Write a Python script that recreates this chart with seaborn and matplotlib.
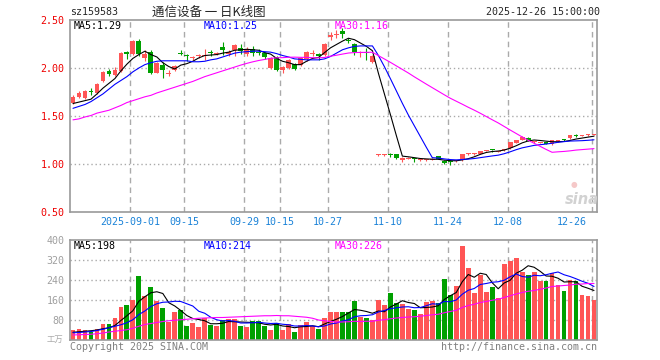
import numpy as np
import pandas as pd
import matplotlib
matplotlib.use("Agg")
import matplotlib.pyplot as plt
import matplotlib.transforms as mtransforms
import seaborn as sns

# ---- daily candles (price), 88 trading days ----
opens = [1.64, 1.70, 1.69, 1.76, 1.74, 1.86, 1.97, 1.93, 1.97, 2.17,
         2.15, 2.28, 2.10, 2.17, 1.95, 2.03, 1.94, 1.98, 2.16, 2.14,
         2.10, 2.12, 2.12, 2.17, 2.15, 2.22, 2.15, 2.19, 2.21, 2.15,
         2.20, 2.17, 2.16, 2.00, 2.11, 1.98, 2.00, 2.04, 2.03, 2.09,
         2.15, 2.15, 2.14, 2.32, 2.34, 2.39, 2.29, 2.25, 2.16, 2.17,
         2.06, 1.09, 1.09, 1.095, 1.10, 1.04, 1.055, 1.055, 1.04, 1.04,
         1.045, 1.08, 1.035, 1.025, 1.03, 1.04, 1.10, 1.10, 1.107, 1.133,
         1.145, 1.127, 1.15, 1.162, 1.222, 1.25, 1.273, 1.228, 1.222, 1.217,
         1.205, 1.236, 1.25, 1.27, 1.30, 1.296, 1.303, 1.305]
highs = [1.72, 1.76, 1.77, 1.79, 1.84, 1.97, 1.99, 2.01, 2.17, 2.18,
         2.29, 2.30, 2.19, 2.19, 2.06, 2.06, 1.98, 2.03, 2.19, 2.15,
         2.13, 2.15, 2.20, 2.19, 2.17, 2.27, 2.19, 2.25, 2.25, 2.22,
         2.23, 2.20, 2.17, 2.11, 2.13, 2.02, 2.09, 2.05, 2.11, 2.18,
         2.19, 2.16, 2.26, 2.38, 2.40, 2.42, 2.31, 2.26, 2.18, 2.21,
         2.14, 1.10, 1.10, 1.11, 1.105, 1.07, 1.07, 1.06, 1.05, 1.05,
         1.06, 1.085, 1.04, 1.04, 1.04, 1.105, 1.11, 1.11, 1.14, 1.14,
         1.15, 1.14, 1.16, 1.23, 1.255, 1.29, 1.28, 1.24, 1.232, 1.225,
         1.25, 1.245, 1.26, 1.30, 1.31, 1.305, 1.31, 1.31]
lows = [1.62, 1.69, 1.68, 1.72, 1.73, 1.85, 1.92, 1.92, 1.96, 2.09,
        2.14, 2.13, 2.07, 1.94, 1.95, 1.90, 1.92, 1.97, 2.14, 2.07,
        2.08, 2.10, 2.08, 2.13, 2.14, 2.14, 2.12, 2.13, 2.15, 2.13,
        2.13, 2.14, 2.09, 1.99, 1.97, 1.95, 1.99, 1.98, 2.02, 2.07,
        2.13, 2.08, 2.13, 2.29, 2.31, 2.31, 2.26, 2.14, 2.11, 2.08,
        2.05, 1.08, 1.08, 1.07, 1.05, 1.02, 1.05, 1.02, 1.03, 1.03,
        1.04, 1.05, 0.995, 0.985, 1.02, 1.035, 1.09, 1.09, 1.10, 1.12,
        1.13, 1.12, 1.14, 1.16, 1.22, 1.25, 1.235, 1.22, 1.215, 1.205,
        1.20, 1.23, 1.24, 1.265, 1.285, 1.29, 1.295, 1.30]
closes = [1.70, 1.74, 1.76, 1.75, 1.83, 1.96, 1.94, 1.98, 2.16, 2.15,
          2.28, 2.15, 2.15, 1.95, 2.05, 1.98, 1.95, 2.02, 2.15, 2.12,
          2.11, 2.13, 2.14, 2.16, 2.16, 2.19, 2.17, 2.24, 2.18, 2.20,
          2.16, 2.16, 2.11, 2.10, 1.98, 2.01, 2.08, 1.99, 2.10, 2.17,
          2.16, 2.12, 2.25, 2.34, 2.35, 2.35, 2.28, 2.17, 2.17, 2.16,
          2.13, 1.095, 1.095, 1.09, 1.065, 1.065, 1.06, 1.05, 1.045, 1.045,
          1.05, 1.055, 1.007, 1.02, 1.035, 1.10, 1.105, 1.107, 1.135, 1.137,
          1.142, 1.13, 1.155, 1.228, 1.255, 1.283, 1.24, 1.233, 1.226, 1.213,
          1.248, 1.24, 1.247, 1.297, 1.296, 1.30, 1.307, 1.308]

# moving averages as drawn on the chart
ma5 = [1.63, 1.645, 1.66, 1.675, 1.73, 1.79, 1.84, 1.89, 1.97, 2.04,
       2.10, 2.14, 2.175, 2.14, 2.115, 2.055, 2.015, 1.99, 2.03, 2.045,
       2.07, 2.105, 2.13, 2.135, 2.14, 2.155, 2.165, 2.185, 2.19, 2.195,
       2.19, 2.185, 2.16, 2.145, 2.10, 2.07, 2.055, 2.035, 2.035, 2.07,
       2.10, 2.11, 2.16, 2.21, 2.245, 2.28, 2.31, 2.295, 2.26, 2.225,
       2.18, 1.945, 1.73, 1.515, 1.295, 1.082, 1.075, 1.066, 1.057, 1.053,
       1.05, 1.049, 1.04, 1.035, 1.033, 1.043, 1.055, 1.075, 1.10, 1.12,
       1.13, 1.135, 1.145, 1.165, 1.19, 1.22, 1.24, 1.25, 1.245, 1.238,
       1.232, 1.232, 1.235, 1.245, 1.26, 1.27, 1.28, 1.29]
ma10 = [1.58, 1.60, 1.62, 1.65, 1.69, 1.73, 1.78, 1.83, 1.87, 1.91,
        1.96, 2.00, 2.035, 2.055, 2.07, 2.075, 2.075, 2.075, 2.075, 2.075,
        2.065, 2.065, 2.07, 2.085, 2.095, 2.115, 2.135, 2.155, 2.165, 2.17,
        2.175, 2.175, 2.17, 2.165, 2.15, 2.13, 2.115, 2.095, 2.09, 2.085,
        2.085, 2.085, 2.095, 2.12, 2.155, 2.19, 2.21, 2.225, 2.23, 2.23,
        2.23, 2.13, 2.014, 1.889, 1.761, 1.632, 1.51, 1.398, 1.286, 1.174,
        1.066, 1.062, 1.053, 1.046, 1.043, 1.047, 1.051, 1.057, 1.066, 1.075,
        1.084, 1.092, 1.107, 1.127, 1.149, 1.168, 1.181, 1.194, 1.201, 1.208,
        1.216, 1.226, 1.233, 1.239, 1.241, 1.243, 1.247, 1.252]
ma30 = [1.46, 1.47, 1.49, 1.505, 1.53, 1.545, 1.56, 1.585, 1.61, 1.64,
        1.66, 1.68, 1.70, 1.715, 1.74, 1.76, 1.78, 1.80, 1.82, 1.84,
        1.86, 1.885, 1.91, 1.93, 1.95, 1.97, 1.99, 2.01, 2.03, 2.048,
        2.064, 2.078, 2.089, 2.101, 2.106, 2.108, 2.112, 2.113, 2.111, 2.111,
        2.107, 2.106, 2.110, 2.123, 2.133, 2.145, 2.156, 2.161, 2.162, 2.163,
        2.164, 2.129, 2.094, 2.059, 2.022, 1.985, 1.948, 1.908, 1.870, 1.832,
        1.795, 1.758, 1.721, 1.685, 1.654, 1.623, 1.591, 1.561, 1.529, 1.495,
        1.461, 1.428, 1.391, 1.354, 1.318, 1.282, 1.247, 1.216, 1.184, 1.152,
        1.122, 1.127, 1.131, 1.137, 1.145, 1.15, 1.155, 1.16]

# ---- volume (万) ----
vol = [40, 44, 40, 33, 44, 63, 63, 88, 132, 140,
       160, 257, 176, 213, 157, 128, 72, 112, 120, 56,
       68, 52, 88, 60, 56, 80, 84, 84, 56, 52,
       76, 76, 56, 40, 68, 40, 64, 32, 60, 72,
       56, 44, 88, 112, 114, 114, 114, 158, 94, 90,
       80, 160, 140, 190, 150, 146, 124, 120, 104, 154,
       158, 148, 245, 180, 217, 377, 289, 190, 261, 193,
       213, 169, 305, 317, 329, 273, 261, 273, 237, 237,
       269, 221, 197, 241, 237, 181, 177, 160]
vma5 = [31, 33, 35, 37, 40, 45, 49, 58, 78, 97,
        117, 155, 173, 189, 193, 186, 149, 136, 118, 98,
        86, 82, 77, 65, 65, 67, 74, 73, 72, 71,
        70, 69, 63, 60, 63, 56, 54, 49, 53, 54,
        57, 53, 64, 74, 83, 94, 108, 122, 119, 114,
        107, 116, 113, 132, 144, 157, 150, 146, 129, 130,
        132, 137, 162, 177, 190, 233, 262, 251, 267, 262,
        229, 205, 228, 239, 267, 279, 297, 291, 275, 256,
        255, 247, 232, 233, 233, 215, 207, 198]
vma10 = [29, 30, 32, 34, 38, 43, 49, 55, 61, 69,
         81, 102, 116, 134, 145, 151, 152, 155, 154, 145,
         136, 115, 107, 91, 81, 76, 78, 75, 68, 68,
         69, 71, 68, 66, 67, 63, 61, 56, 56, 58,
         56, 53, 56, 64, 68, 76, 81, 93, 97, 98,
         101, 112, 118, 125, 129, 132, 133, 129, 130, 137,
         145, 143, 154, 153, 160, 183, 199, 206, 222, 226,
         231, 233, 239, 253, 264, 254, 251, 259, 257, 261,
         267, 272, 261, 254, 245, 235, 227, 214]
vma30 = [20, 21, 22, 23, 25, 28, 32, 35, 38, 41,
         47, 55, 62, 66, 70, 74, 77, 79, 81, 83,
         85, 87, 88, 89, 90, 90, 91, 92, 93, 94,
         95, 96, 97, 97, 98, 97, 97, 95, 93, 91,
         87, 80, 77, 74, 72, 72, 73, 75, 74, 75,
         75, 79, 81, 85, 88, 90, 92, 93, 95, 98,
         101, 103, 109, 114, 119, 130, 138, 143, 150, 154,
         159, 163, 170, 177, 184, 190, 195, 198, 203, 208,
         214, 216, 218, 220, 223, 224, 226, 226]

date_labels = ['2025-09-01', '09-15', '09-29', '10-15', '10-27',
               '11-10', '11-24', '12-08', '12-26']
date_idx = [10, 19, 29, 35, 43, 53, 63, 73, 87]

# ---- style ----
sns.set_style("white")
plt.rcParams['font.family'] = ['DejaVu Sans Mono', 'Noto Sans CJK SC']
RED, GREEN = '#ff5555', '#00a000'
GRID = '#aaaaaa'
FS = 7.2
W, H = 660, 360

def fx(px):
    return px / W

def fy(py):
    return 1 - py / H

idx = np.arange(len(closes))
o, c = np.array(opens), np.array(closes)
up = c >= o
cols = np.where(up, RED, GREEN)
df = pd.DataFrame({'idx': idx, 'vol': vol, 'dir': np.where(up, 'up', 'down')})

fig = plt.figure(figsize=(6.6, 3.6), dpi=100)
ax = fig.add_axes([fx(70), fy(212), (597 - 70) / W, (212 - 20) / H])
av = fig.add_axes([fx(70), fy(340), (597 - 70) / W, 100 / H])

# grid
for a in (ax, av):
    for d in date_idx:
        a.axvline(d - 0.4, color=GRID, lw=1, ls=(0, (4, 3)), zorder=0)
for yv in [1.0, 1.5, 2.0]:
    ax.axhline(yv, color=GRID, lw=1, ls=(0, (1, 2)), zorder=0)
for yv in [80, 160, 240, 320]:
    av.axhline(yv, color=GRID, lw=1, ls=(0, (1, 2)), zorder=0)

# candles
ax.vlines(idx, lows, highs, colors=cols, lw=0.8, zorder=2)
ax.bar(idx, np.maximum(np.abs(c - o), 0.011), bottom=np.minimum(o, c),
       width=0.8, color=cols, lw=0, zorder=3)
sns.lineplot(x=idx, y=ma5, color='black', lw=0.8, ax=ax, zorder=4)
sns.lineplot(x=idx, y=ma10, color='#0000ff', lw=0.8, ax=ax, zorder=4)
sns.lineplot(x=idx, y=ma30, color='#ff00ff', lw=0.8, ax=ax, zorder=4)

# volume
sns.barplot(data=df, x='idx', y='vol', hue='dir',
            palette={'up': RED, 'down': GREEN}, native_scale=True,
            width=0.8, dodge=False, saturation=1, linewidth=0,
            errorbar=None, legend=False, ax=av, zorder=2)
sns.lineplot(x=idx, y=vma5, color='black', lw=0.8, ax=av, zorder=4)
sns.lineplot(x=idx, y=vma10, color='#0000ff', lw=0.8, ax=av, zorder=4)
sns.lineplot(x=idx, y=vma30, color='#ff00ff', lw=0.8, ax=av, zorder=4)

# axes
ax.set_xlim(-0.5, len(closes) - 0.5)
av.set_xlim(-0.5, len(closes) - 0.5)
ax.set_ylim(0.5, 2.5)
av.set_ylim(0, 400)
ax.set_yticks([0.5, 1.0, 1.5, 2.0, 2.5])
ax.set_yticklabels(['0.50', '1.00', '1.50', '2.00', '2.50'], color='#ee0000', fontsize=FS)
ax.set_xticks([])
av.set_yticks([80, 160, 240, 320, 400])
av.set_yticklabels(['80', '160', '240', '320', '400'], color='#a0a0a0', fontsize=FS)
av.set_xticks([])
for a in (ax, av):
    a.tick_params(length=0, pad=4)
    a.set_xlabel('')
    a.set_ylabel('')
    for s in a.spines.values():
        s.set_color('#999999')
        s.set_linewidth(1.2)

# date labels under the price panel (the last one is pulled inside)
trans = mtransforms.blended_transform_factory(ax.transData, ax.transAxes)
for lab, d in zip(date_labels, date_idx):
    if d == date_idx[-1]:
        ax.text(d - 1.2, -0.05, lab, transform=trans, ha='right', va='center',
                color='#1a82d8', fontsize=FS)
    else:
        ax.text(d - 0.4, -0.05, lab, transform=trans, ha='center', va='center',
                color='#1a82d8', fontsize=FS)

# labels
fig.text(fx(70), fy(12), 'sz159583', fontsize=FS, va='center')
fig.text(fx(152), fy(12), '通信设备 一 日K线图', fontsize=9,
         family=['Noto Sans CJK SC', 'DejaVu Sans'], va='center')
fig.text(fx(600), fy(12), '2025-12-26 15:00:00', fontsize=FS, va='center', ha='right')

fig.text(fx(74), fy(26), 'MA5:1.29', color='black', fontsize=FS, va='center')
fig.text(fx(204), fy(26), 'MA10:1.25', color='#0000ff', fontsize=FS, va='center')
fig.text(fx(335), fy(26), 'MA30:1.16', color='#ff00ff', fontsize=FS, va='center')
fig.text(fx(74), fy(246), 'MA5:198', color='black', fontsize=FS, va='center')
fig.text(fx(204), fy(246), 'MA10:214', color='#0000ff', fontsize=FS, va='center')
fig.text(fx(335), fy(246), 'MA30:226', color='#ff00ff', fontsize=FS, va='center')

fig.text(fx(47), fy(339), '工万', color='#aaaaaa', fontsize=6,
         family=['Noto Sans CJK SC', 'DejaVu Sans'], va='center')
fig.text(fx(70), fy(347), 'Copyright 2025 SINA.COM', color='#808080', fontsize=FS, va='center')
fig.text(fx(597), fy(347), 'http://finance.sina.com.cn', color='#808080', fontsize=FS,
         va='center', ha='right')

# watermark
fig.text(fx(574), fy(184), '●', color='#f5c8c8', fontsize=5.5, ha='center', va='center',
         family='DejaVu Sans')
fig.text(fx(582), fy(200), 'sina', color='#d2d2d2', fontsize=10.5, fontweight='bold',
         style='italic', ha='center', va='center', family='DejaVu Sans')

fig.savefig('out.png', dpi=100)
